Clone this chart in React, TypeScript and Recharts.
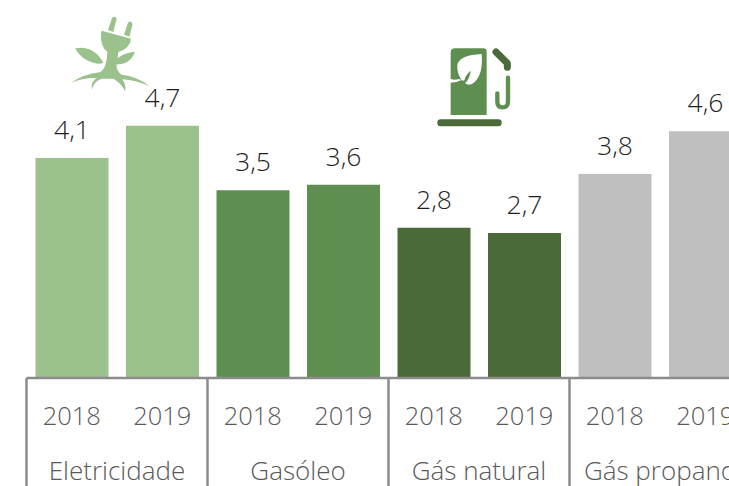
import React from "react";
import { BarChart, Bar, Cell, XAxis, YAxis, LabelList } from "recharts";

const YEARS = ["2018", "2019", "2018", "2019", "2018", "2019", "2018", "2019"];
const VALUES = [4.1, 4.7, 3.5, 3.6, 2.8, 2.7, 3.8, 4.6];
const GROUPS = ["Eletricidade", "Gasóleo", "Gás natural", "Gás propano"];
const COLORS = ["#9BC28C", "#9BC28C", "#5E8F50", "#5E8F50", "#4A6B39", "#4A6B39", "#BFBFBF", "#BFBFBF"];

const data = YEARS.map((year, i) => ({ key: i, year, value: VALUES[i] }));

const FONT = "'Open Sans', sans-serif";
const SLOT = 90.5;

const formatLabel = (v: any) => String(v).replace(".", ",");

// year label on each slot, plus group name and separators on the first slot of each group
const GroupTick = ({ x, y, payload }: any) => {
  const i = payload.index ?? payload.value;
  const first = i % 2 === 0;
  const axisY = y - 8;
  return (
    <g>
      <text x={x} y={axisY + 47} textAnchor="middle" fontFamily={FONT} fontWeight={300} fontSize={25.5} fill="#595959">
        {YEARS[i]}
      </text>
      {first && (
        <>
          <line x1={x - SLOT / 2} x2={x - SLOT / 2} y1={axisY} y2={486} stroke="#8C8C8C" strokeWidth={2.5} />
          <text x={x + SLOT / 2} y={axisY + 102} textAnchor="middle" fontFamily={FONT} fontWeight={300} fontSize={26} fill="#595959">
            {GROUPS[i / 2]}
          </text>
        </>
      )}
    </g>
  );
};

const PlugIcon = () => (
  <svg style={{ position: "absolute", left: 50, top: 0 }} width={120} height={110} viewBox="0 0 360 330">
    <g fill="#9BC28C">
      <path d="M155 92 L243 116 Q240 145 205 156 L200 195 Q198 212 215 224 Q260 228 298 258 Q255 240 217 238 Q230 255 225 274 Q215 250 190 236 L155 236 Q130 245 125 270 Q122 245 140 234 Q100 232 64 248 Q100 222 152 216 Q170 205 172 155 Q150 140 153 100 Z" />
      <path d="M174 90 L186 54 Q194 46 200 56 L190 96 Z" />
      <path d="M222 104 L234 68 Q242 60 248 72 L238 110 Z" />
      <path d="M75 145 Q130 135 160 188 Q148 194 130 188 Q95 180 75 145 Z" />
      <path d="M255 155 Q205 160 190 192 Q240 198 255 155 Z" />
    </g>
  </svg>
);

const PumpIcon = () => (
  <svg style={{ position: "absolute", left: 420, top: 30 }} width={110} height={110} viewBox="0 0 330 330">
    <path
      fillRule="evenodd"
      fill="#5E8F50"
      d="M105 55 H190 Q200 55 200 65 V255 H92 V158 Q110 158 125 150 Q110 130 112 105 Q118 75 185 72 Q190 130 165 155 Q150 170 135 160 Q150 145 152 122 Q140 130 132 152 Q125 152 118 147 Q100 152 92 146 V68 Q92 55 105 55 Z"
    />
    <rect x={52} y={268} width={193} height={21} rx={10} fill="#4A6B39" />
    <path d="M228 66 L262 100 V112" fill="none" stroke="#4A6B39" strokeWidth={21} strokeLinecap="round" strokeLinejoin="round" />
    <path d="M264 143 V215 Q264 232 248 232 Q232 232 232 215 V190" fill="none" stroke="#5E8F50" strokeWidth={13} strokeLinecap="round" />
  </svg>
);

export default function App() {
  return (
    <div style={{ position: "absolute", left: 0, top: 0, width: 729, height: 486, overflow: "hidden", background: "#fff" }}>
      <BarChart
        width={750.5}
        height={486}
        data={data}
        barSize={73}
        margin={{ top: 56, right: 0, bottom: 0, left: 26.5 }}
      >
        <YAxis hide domain={[0, 6]} />
        <XAxis
          dataKey="key"
          height={108}
          axisLine={{ stroke: "#8C8C8C", strokeWidth: 2.5 }}
          tickLine={false}
          tick={<GroupTick />}
          interval={0}
        />
        <Bar dataKey="value" isAnimationActive={false}>
          {data.map((d) => (
            <Cell key={d.key} fill={COLORS[d.key]} />
          ))}
          <LabelList
            dataKey="value"
            position="top"
            offset={19}
            formatter={formatLabel}
            style={{ fontFamily: FONT, fontWeight: 300, fontSize: 26.5, fill: "#1F1F1F" }}
          />
        </Bar>
      </BarChart>
      <PlugIcon />
      <PumpIcon />
    </div>
  );
}
